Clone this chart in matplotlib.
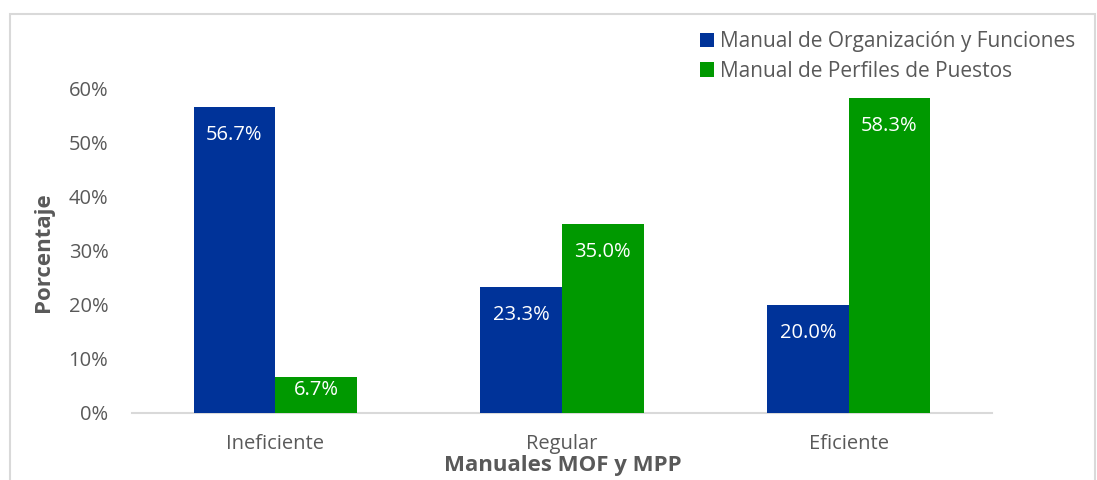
import matplotlib
matplotlib.use("Agg")
import matplotlib.pyplot as plt
from matplotlib.patches import Rectangle
import numpy as np

categories = ["Ineficiente", "Regular", "Eficiente"]
series_names = ["Manual de Organización y Funciones", "Manual de Perfiles de Puestos"]
mof = [56.7, 23.3, 20.0]
mpp = [6.7, 35.0, 58.3]
yticks = [0, 10, 20, 30, 40, 50, 60]

colors = ["#003399", "#009900"]
gray = "#595959"
plt.rcParams['font.family'] = ['Open Sans', 'DejaVu Sans']

W, H = 1097, 480
fig = plt.figure(figsize=(W / 100, H / 100), dpi=100)
ax = fig.add_axes([132 / W, 1 - 413 / H, (992 - 132) / W, (413 - 89) / H])

# figure frame
fig.patches.append(Rectangle((10 / W, -0.1), (1095 - 10) / W, 1.1 - 14 / H,
                             transform=fig.transFigure, fill=False,
                             edgecolor="#d9d9d9", linewidth=1.5))

x = np.arange(len(categories))
bw = 0.285
px_per_unit = (413 - 89) / 60.0
for i, (vals, c, name) in enumerate(zip([mof, mpp], colors, series_names)):
    offs = -bw / 2 if i == 0 else bw / 2
    bars = ax.bar(x + offs, vals, width=bw, color=c, label=name, zorder=3)
    for b, v in zip(bars, vals):
        hpx = v * px_per_unit
        off = min(28, hpx - 23)
        ax.annotate(f"{v:.1f}%", (b.get_x() + b.get_width() / 2, v),
                    xytext=(0, -off * 0.72), textcoords="offset points",
                    ha="center", va="center", color="white", fontsize=14.5, zorder=4)

ax.set_xlim(-0.5, 2.5)
ax.set_ylim(0, 60)
ax.set_yticks(yticks)
ax.set_yticklabels([f"{t}%" for t in yticks])
ax.set_xticks(x)
ax.set_xticklabels(categories)
ax.tick_params(axis="both", length=0, colors=gray, labelsize=14.5)
ax.tick_params(axis="y", pad=17)
ax.tick_params(axis="x", pad=15)
for s in ["top", "right", "left"]:
    ax.spines[s].set_visible(False)
ax.spines["bottom"].set_color("#d9d9d9")
ax.spines["bottom"].set_linewidth(1.5)

fig.text(44 / W, 1 - 252 / H, "Porcentaje", rotation=90, ha="center", va="center",
         fontsize=16, fontweight="bold", color=gray)
fig.text(563 / W, 1 - 465 / H, "Manuales MOF y MPP", ha="center", va="center",
         fontsize=16, fontweight="bold", color=gray)

leg = fig.legend(loc="upper left", bbox_to_anchor=(700 / W, 1 - 31 / H),
                 frameon=False, fontsize=15, handlelength=0.67, handleheight=0.67,
                 handletextpad=0.3, labelspacing=0.42, borderaxespad=0, borderpad=0)
for t in leg.get_texts():
    t.set_color(gray)

fig.savefig("out.png", dpi=100)
